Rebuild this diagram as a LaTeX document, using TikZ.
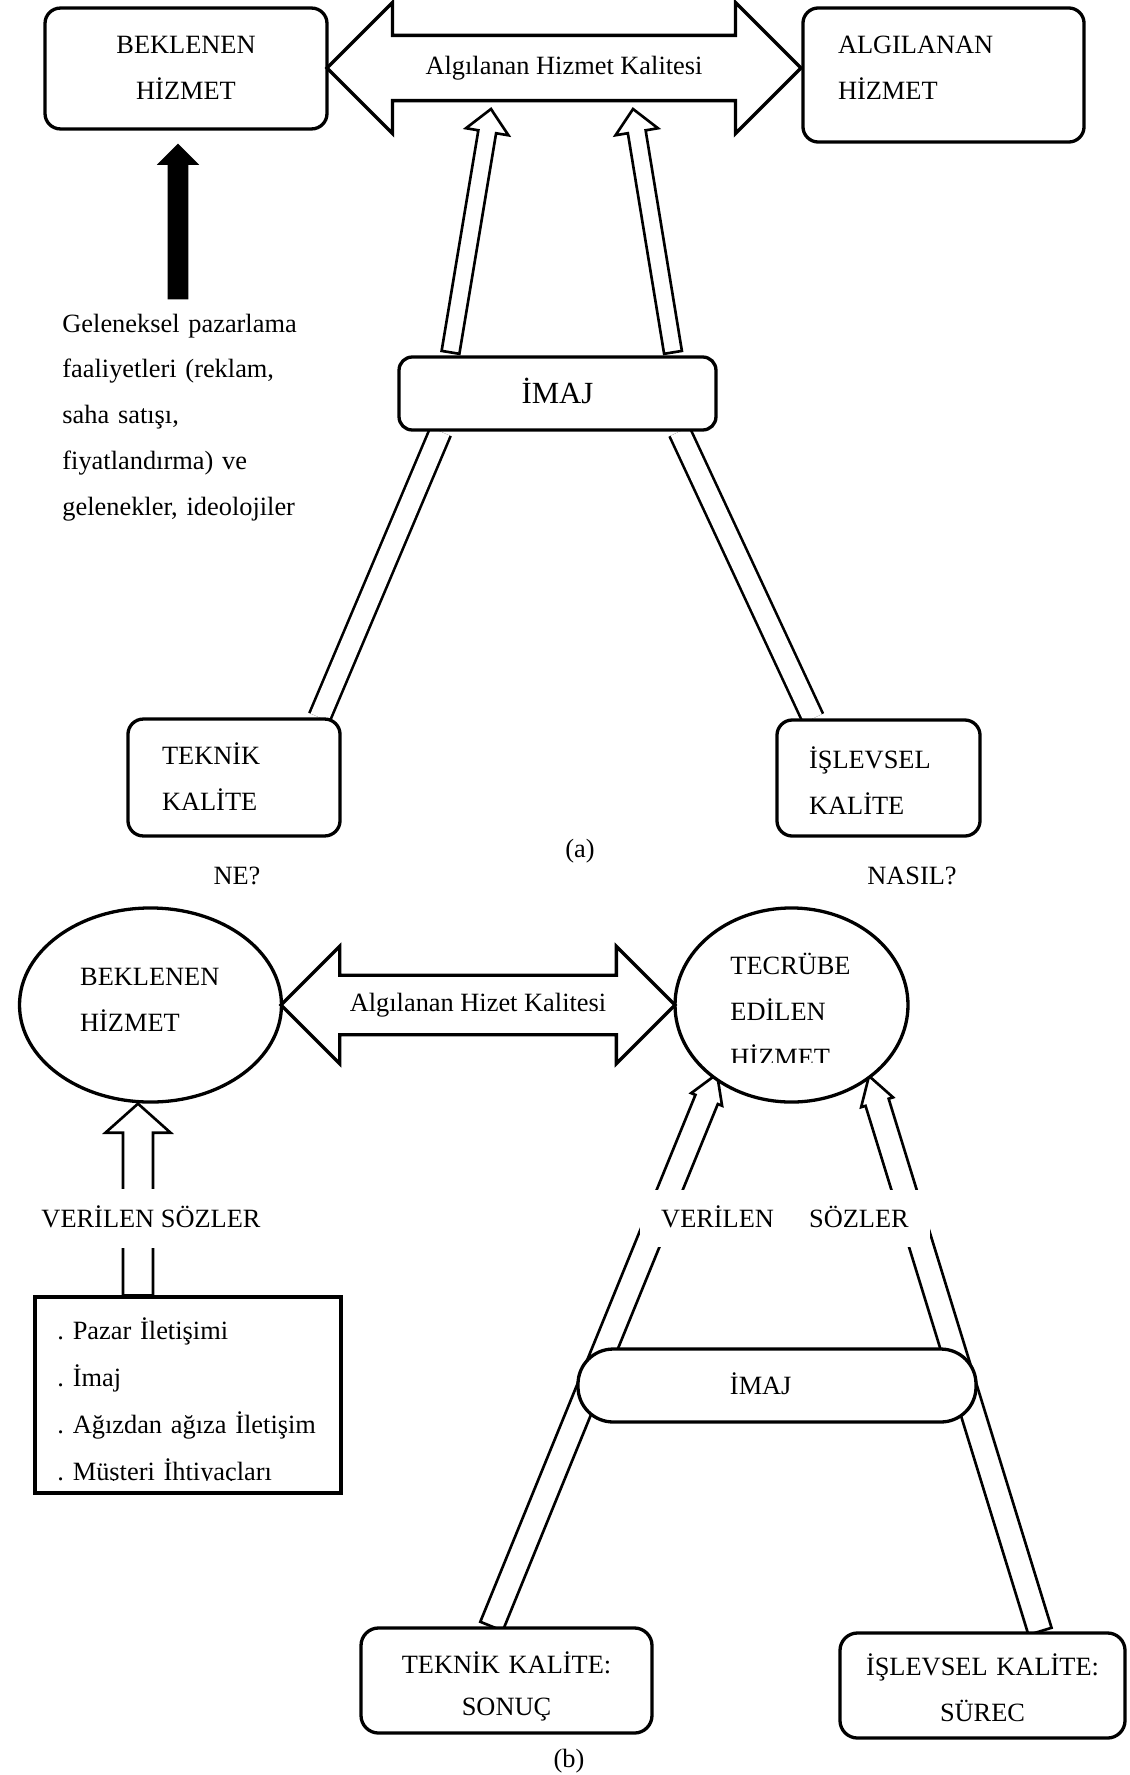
\documentclass[tikz,border=0pt]{standalone}
\usepackage{fontspec}
\setmainfont{Liberation Serif}
\frenchspacing
\usetikzlibrary{calc,shapes.geometric,shapes.arrows,backgrounds}

\tikzset{
  roundbox/.style={draw,line width=1.5pt,fill=white,rounded corners=7pt,inner sep=0pt,text height=8pt},
  plainbox/.style={draw,line width=1.5pt,fill=white,inner sep=0pt},
  oval/.style={ellipse,draw,line width=1.5pt,fill=white,inner sep=0pt},
  bigarrow/.style={double arrow,draw,line width=1.5pt,fill=white,double arrow tip angle=90,inner xsep=2pt,text height=8pt,text depth=2.5pt},
  pipe/.style={line width=1.2pt,double=white,double distance=8.8pt},
  hollow/.style={line width=1.2pt,fill=white,line join=miter},
  txt/.style={inner sep=0pt,text height=8pt,align=left},
  gap/.style={fill=white,inner sep=0pt,text height=8pt,text depth=0pt}
}

% tail, tip, shaft half width, head half width, head length
\newcommand{\hollowarrow}[6][]{%
  \draw[hollow,#1] ($(#2)!#4!90:(#3)$)
    -- ($(#3)!#6!(#2)!#4!90:(#3)$) -- ($(#3)!#6!(#2)!#5!90:(#3)$)
    -- (#3)
    -- ($(#3)!#6!(#2)!#5!-90:(#3)$) -- ($(#3)!#6!(#2)!#4!-90:(#3)$)
    -- ($(#2)!#4!-90:(#3)$) -- cycle;}

\begin{document}
\begin{tikzpicture}[x=0.455pt,y=-0.455pt,font=\fontsize{12pt}{20.9pt}\selectfont]
\useasboundingbox (0,0) rectangle (1129,1775);

% (a)
\node[roundbox,minimum width=128.3pt,minimum height=55pt,text width=120pt,align=center,text depth=21.3pt] (bka) at (186,68.5) {BEKLENEN\\HİZMET};
\node[roundbox,minimum width=127.9pt,minimum height=61pt,text width=96pt,align=left,text depth=27.2pt] (alg) at (943.5,75) {ALGILANAN\\HİZMET};
\node[bigarrow,minimum height=215.7pt,minimum width=58.2pt,double arrow head extend=15pt,inner ysep=8.85pt] (hka) at (564,68) {Algılanan Hizmet Kalitesi};
\node[roundbox,rounded corners=6pt,minimum width=144.2pt,minimum height=33.2pt,text height=9.3pt,text depth=0pt,font=\fontsize{14pt}{16pt}\selectfont] (imaja) at (557.5,393.5) {İMAJ};
\node[roundbox,minimum width=96.5pt,minimum height=53.2pt,text width=65.5pt,align=left,text depth=19.5pt] (tka) at (234,777.5) {TEKNİK\\KALİTE};
\node[roundbox,minimum width=92.4pt,minimum height=52.8pt,text width=63.2pt,align=left,text depth=16.3pt] (ika) at (878.5,778) {İŞLEVSEL\\KALİTE};
\node[txt,text width=120pt,anchor=north west] (gel) at (62,314) {Geleneksel pazarlama\\faaliyetleri (reklam,\\saha satışı,\\fiyatlandırma) ve\\gelenekler, ideolojiler};
\node (capa) at (580,851) {(a)};
\node (ne) at (237,876) {NE?};
\node (nasil) at (912,876) {NASIL?};

% (b)
\node[oval,minimum width=119.2pt,minimum height=88.3pt,text width=64pt,align=left,text height=8pt,text depth=25.4pt] (bkb) at (150.5,1005) {BEKLENEN\\HİZMET};
\node[oval,minimum width=106pt,minimum height=88.3pt] (tcb) at (791.5,1005) {};
\begin{scope}
\clip (650,930) rectangle (930,1062);
\node[txt,text width=70pt,anchor=north west] (tcbtxt) at (730,956.3) {TECRÜBE\\EDİLEN\\HİZMET};
\end{scope}
\node[bigarrow,minimum height=179.3pt,minimum width=51.9pt,double arrow head extend=13.2pt,inner ysep=7.5pt] (hkb) at (478,1005) {Algılanan Hizet Kalitesi};
\node[plainbox,minimum width=139.2pt,minimum height=89.2pt] (pzr) at (188,1395) {};
\begin{scope}
\clip (40,1305) rectangle (336,1480.5);
\node[txt,text width=130pt,anchor=north west,font=\fontsize{12pt}{21.4pt}\selectfont] (pzrtxt) at (57,1321) {. Pazar İletişimi\\. İmaj\\. Ağızdan ağıza İletişim\\. Müşteri İhtiyaçları};
\end{scope}
\node[gap,minimum height=26.8pt] (vs1) at (151,1218.5) {VERİLEN SÖZLER};
\node[gap,minimum width=132pt,minimum height=26pt] (vs2) at (785,1218.5) {VERİLEN\hspace{16pt}SÖZLER};
\node[roundbox,rounded corners=16pt,minimum width=181.1pt,minimum height=33.2pt,text width=42.8pt,align=left,text height=7.9pt,text depth=0pt] (imb) at (777,1385.5) {İMAJ};
\node[roundbox,rounded corners=8pt,minimum width=132.4pt,minimum height=47.8pt,text width=125pt,align=center,text depth=14pt] (tkb) at (506.5,1680.5) {TEKNİK KALİTE:\\[-1.8pt]SONUÇ};
\node[roundbox,rounded corners=8pt,minimum width=129.7pt,minimum height=47.8pt,text width=122pt,align=center,text depth=16.8pt] (ikb) at (982.5,1685.5) {İŞLEVSEL KALİTE:\\SÜREC};
\node (capb) at (569,1761) {(b)};

% connectors
\begin{scope}[on background layer]
\coordinate (kt) at ($(bka.south)+(-8,15)$);
\coordinate (kb) at ($(gel.north west)+(116,-16)$);
\hollowarrow[fill=black]{kb}{kt}{4.1pt}{8.2pt}{8.2pt}
\coordinate (a1) at ($(imaja.north)+(-107,-3)$);
\coordinate (a1t) at ($(hka.center)+(-73,41)$);
\coordinate (a2) at ($(imaja.north)+(115.5,-3)$);
\coordinate (a2t) at ($(hka.center)+(69,41)$);
\hollowarrow{a1}{a1t}{4.1pt}{9.8pt}{10.5pt}
\hollowarrow{a2}{a2t}{4.1pt}{9.8pt}{10.5pt}
\draw[pipe] ($(imaja.south)+(-117,0)$) -- ($(tka.north)+(85.5,0)$);
\draw[pipe] ($(imaja.south)+(122,0)$) -- ($(ika.north)+(-65.5,0)$);
\coordinate (v1) at ($(pzr.north)+(-50,0)$);
\coordinate (v1t) at ($(bkb.south)+(-12.5,0)$);
\hollowarrow{v1}{v1t}{6.8pt}{14.8pt}{13.2pt}
\coordinate (l1) at ($(tkb.north)+(-15,0)$);
\coordinate (l1t) at ($(tcb.center)+(-74.5,69)$);
\coordinate (l2) at ($(ikb.north)+(57.5,0)$);
\coordinate (l2t) at ($(tcb.center)+(77.5,71)$);
\hollowarrow{l1}{l1t}{5.5pt}{7.6pt}{12.5pt}
\hollowarrow{l2}{l2t}{5.5pt}{7.6pt}{12.5pt}
\end{scope}
\end{tikzpicture}
\end{document}
